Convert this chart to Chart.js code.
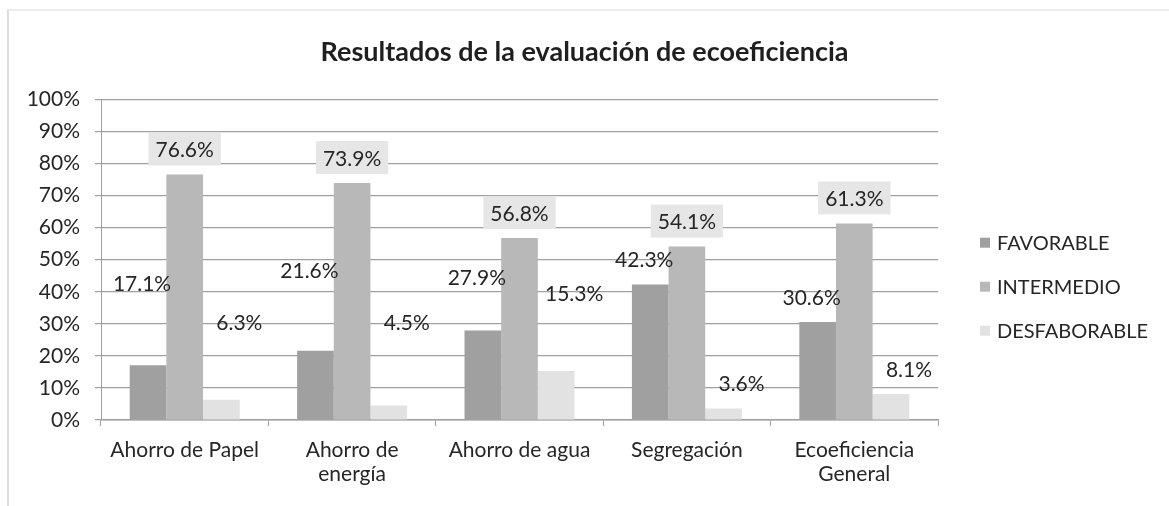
<!DOCTYPE html>
<html>
<head>
<meta charset="utf-8">
<script src="https://cdn.jsdelivr.net/npm/chart.js@4"></script>
<style>
    html, body { margin: 0; padding: 0; background: #fff; }
    #frame { position: absolute; left: 0; top: 0; width: 1169px; height: 506px; }
    #frame:before { content: ""; position: absolute; left: 7px; top: 9px; right: 0; bottom: 0;
        border-left: 2px solid #dcdcdc; border-top: 2px solid #ececec; }
</style>
</head>
<body>
<div id="frame"><canvas id="ecoChart" width="1169" height="506"></canvas></div>
<script>
var categories = [["Ahorro de Papel"], ["Ahorro de", "energía"], ["Ahorro de agua"], ["Segregación"], ["Ecoeficiencia", "General"]];
var favorable = [17.1, 21.6, 27.9, 42.3, 30.6];
var intermedio = [76.6, 73.9, 56.8, 54.1, 61.3];
var desfaborable = [6.3, 4.5, 15.3, 3.6, 8.1];
var yTicks = [0, 10, 20, 30, 40, 50, 60, 70, 80, 90, 100];

// label placement (pixels, relative to bar top) - the labels were moved by hand in the original
var labelNudge = {
    dx: [-6, 0, 18],
    dy: [[57, 0, 53], [56, 0, 58], [28, 0, 53], [0, 0, 0], [0, 0, 0]]
};
var labelBg = [null, "#e6e6e6", null];

var FONT = "Lato, 'Open Sans', sans-serif";
var TEXT = "#262626";

var barLabels = {
    id: 'barLabels',
    afterDatasetsDraw: function (chart) {
        var ctx = chart.ctx;
        ctx.save();
        ctx.font = "21px " + FONT;
        ctx.textAlign = "center";
        ctx.textBaseline = "middle";
        chart.data.datasets.forEach(function (ds, di) {
            chart.getDatasetMeta(di).data.forEach(function (bar, i) {
                var text = ds.data[i].toFixed(1) + "%";
                var x = bar.x + labelNudge.dx[di];
                var y = bar.y - 25 - labelNudge.dy[i][di];
                var w = ctx.measureText(text).width + 14;
                if (labelBg[di]) {
                    ctx.fillStyle = labelBg[di];
                    ctx.fillRect(x - w / 2, y - 17, w, 33);
                }
                ctx.fillStyle = TEXT;
                ctx.fillText(text, x, y + 1);
            });
        });
        ctx.restore();
    }
};

// legend drawn beside the plot, like the Excel one
var sideLegend = {
    id: 'sideLegend',
    afterDraw: function (chart) {
        var ctx = chart.ctx;
        var area = chart.chartArea;
        var mid = (area.top + area.bottom) / 2;
        ctx.save();
        ctx.font = "20px " + FONT;
        ctx.textBaseline = "middle";
        chart.data.datasets.forEach(function (ds, di) {
            var y = mid + 27 + (di - 1) * 44;
            ctx.fillStyle = ds.backgroundColor;
            ctx.fillRect(area.right + 42, y - 5, 10, 10);
            ctx.fillStyle = TEXT;
            ctx.fillText(ds.label, area.right + 59, y + 1);
        });
        ctx.restore();
    }
};

var ctx = document.getElementById("ecoChart").getContext("2d");
var myChart = new Chart(ctx, {
    type: "bar",
    data: {
        labels: categories,
        datasets: [
            { label: "FAVORABLE", data: favorable, backgroundColor: "#a0a0a0" },
            { label: "INTERMEDIO", data: intermedio, backgroundColor: "#b8b8b8" },
            { label: "DESFABORABLE", data: desfaborable, backgroundColor: "#e2e2e2" }
        ]
    },
    options: {
        responsive: false,
        animation: false,
        categoryPercentage: 0.657,
        barPercentage: 1.0,
        layout: { padding: { left: 10, right: 10, top: 0, bottom: 0 } },
        plugins: {
            title: {
                display: true,
                text: "Resultados de la evaluación de ecoeficiencia",
                color: "#1f1f1f",
                font: { family: FONT, size: 27, weight: "bold", lineHeight: 1.2 },
                padding: { top: 36, bottom: 31 }
            },
            legend: { display: false },
            tooltip: { enabled: false }
        },
        scales: {
            y: {
                min: 0,
                max: 100,
                afterBuildTicks: function (axis) {
                    axis.ticks = yTicks.map(function (v) { return { value: v }; });
                },
                afterFit: function (axis) { axis.width = 91; },
                ticks: {
                    color: TEXT,
                    font: { family: FONT, size: 21 },
                    padding: 15,
                    callback: function (v) { return v + "%"; }
                },
                grid: { color: "#a0a0a0", lineWidth: 1.2, tickLength: 6 },
                border: { color: "#a0a0a0" }
            },
            // empty right-hand axis, only reserves the room the legend sits in
            legendSpace: {
                type: "linear",
                position: "right",
                afterFit: function (axis) { axis.width = 221; },
                ticks: { display: false },
                grid: { display: false, drawTicks: false },
                border: { display: false }
            },
            x: {
                afterFit: function (axis) { axis.height = 86; },
                ticks: {
                    color: TEXT,
                    font: { family: FONT, size: 21, lineHeight: 1.15 },
                    padding: 12,
                    maxRotation: 0
                },
                grid: { drawOnChartArea: false, color: "#a0a0a0", tickLength: 6, offset: true },
                border: { color: "#a0a0a0", width: 1.5 }
            }
        }
    },
    plugins: [barLabels, sideLegend]
});
</script>
</body>
</html>
